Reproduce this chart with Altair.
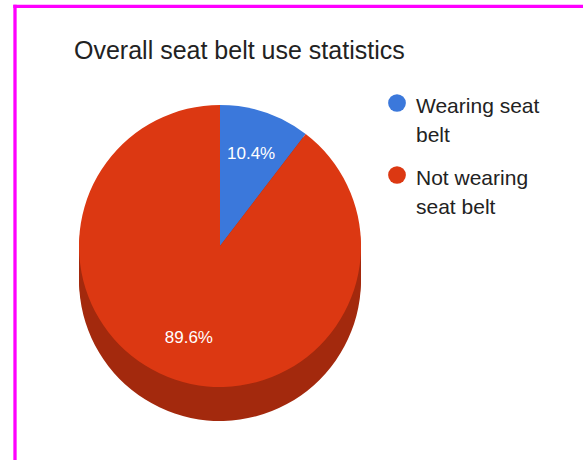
import altair as alt
import pandas as pd

# ---- data ----
categories = ["Wearing seat belt", "Not wearing seat belt"]
legend_labels = ["Wearing seat\nbelt", "Not wearing\nseat belt"]
shares = [10.4, 89.6]
slice_labels = ["10.4%", "89.6%"]
colors = ["#3b78db", "#dc3812"]
side_color = "#a3290d"
depths = [5, 10, 15, 20, 25, 30, 34]

df = pd.DataFrame({
    "category": categories,
    "share": shares,
    "label": slice_labels,
    "legend": legend_labels,
    "idx": list(range(len(categories))),
})
border_df = pd.DataFrame({"k": [0]})

FONT = "Liberation Sans"
TOP = 70
CX, CY, R = 220, 246 - TOP, 141

theta = alt.Theta("share:Q", stack=True)
order = alt.Order("idx:Q")
color = alt.Color("category:N", scale=alt.Scale(domain=categories, range=colors), legend=None)

base = alt.Chart(df)

sides = [
    base.mark_arc(radius=R, yOffset=d, color=side_color).encode(
        theta=theta, order=order, x=alt.value(CX), y=alt.value(CY)
    )
    for d in depths
]

top = base.mark_arc(radius=R).encode(
    theta=theta, order=order, color=color, x=alt.value(CX), y=alt.value(CY)
)

labels = base.mark_text(radius=97, font=FONT, fontSize=17, color="#ffffff").encode(
    theta=theta, order=order, text="label:N", x=alt.value(CX), y=alt.value(CY)
)

ypos = alt.Y("idx:Q", scale=alt.Scale(domain=[0, 1], range=[103 - TOP, 175 - TOP], nice=False, zero=False), axis=None)

leg_sym = base.mark_circle(size=314, opacity=1).encode(
    x=alt.value(397), y=ypos, color=color
)
leg_txt = base.mark_text(
    align="left", baseline="alphabetic", dy=10, lineBreak="\n", lineHeight=29,
    font=FONT, fontSize=21, color="#222222"
).encode(x=alt.value(416), y=ypos, text="legend:N")

top_rule = alt.Chart(border_df).mark_rule(color="#ff00ff", strokeWidth=3.3).encode(
    x=alt.value(13.3), x2=alt.value(583), y=alt.value(6.3 - TOP)
)
left_rule = alt.Chart(border_df).mark_rule(color="#ff00ff", strokeWidth=3.3).encode(
    x=alt.value(15), y=alt.value(4.7 - TOP), y2=alt.value(460 - TOP)
)

chart = alt.layer(*sides, top, labels, leg_sym, leg_txt, top_rule, left_rule).properties(
    width=583,
    height=460 - TOP,
    padding={"left": 0, "top": TOP, "right": 0, "bottom": 0},
    autosize=alt.AutoSizeParams(type="none"),
    background="white",
    title=alt.TitleParams(
        text="Overall seat belt use statistics",
        anchor="start",
        frame="group",
        dx=74,
        dy=81,
        offset=0,
        baseline="alphabetic",
        font=FONT,
        fontSize=25,
        fontWeight="normal",
        color="#222222",
    ),
).configure_view(stroke=None)

chart.save("out.html", embed_options={"renderer": "svg", "actions": False})
